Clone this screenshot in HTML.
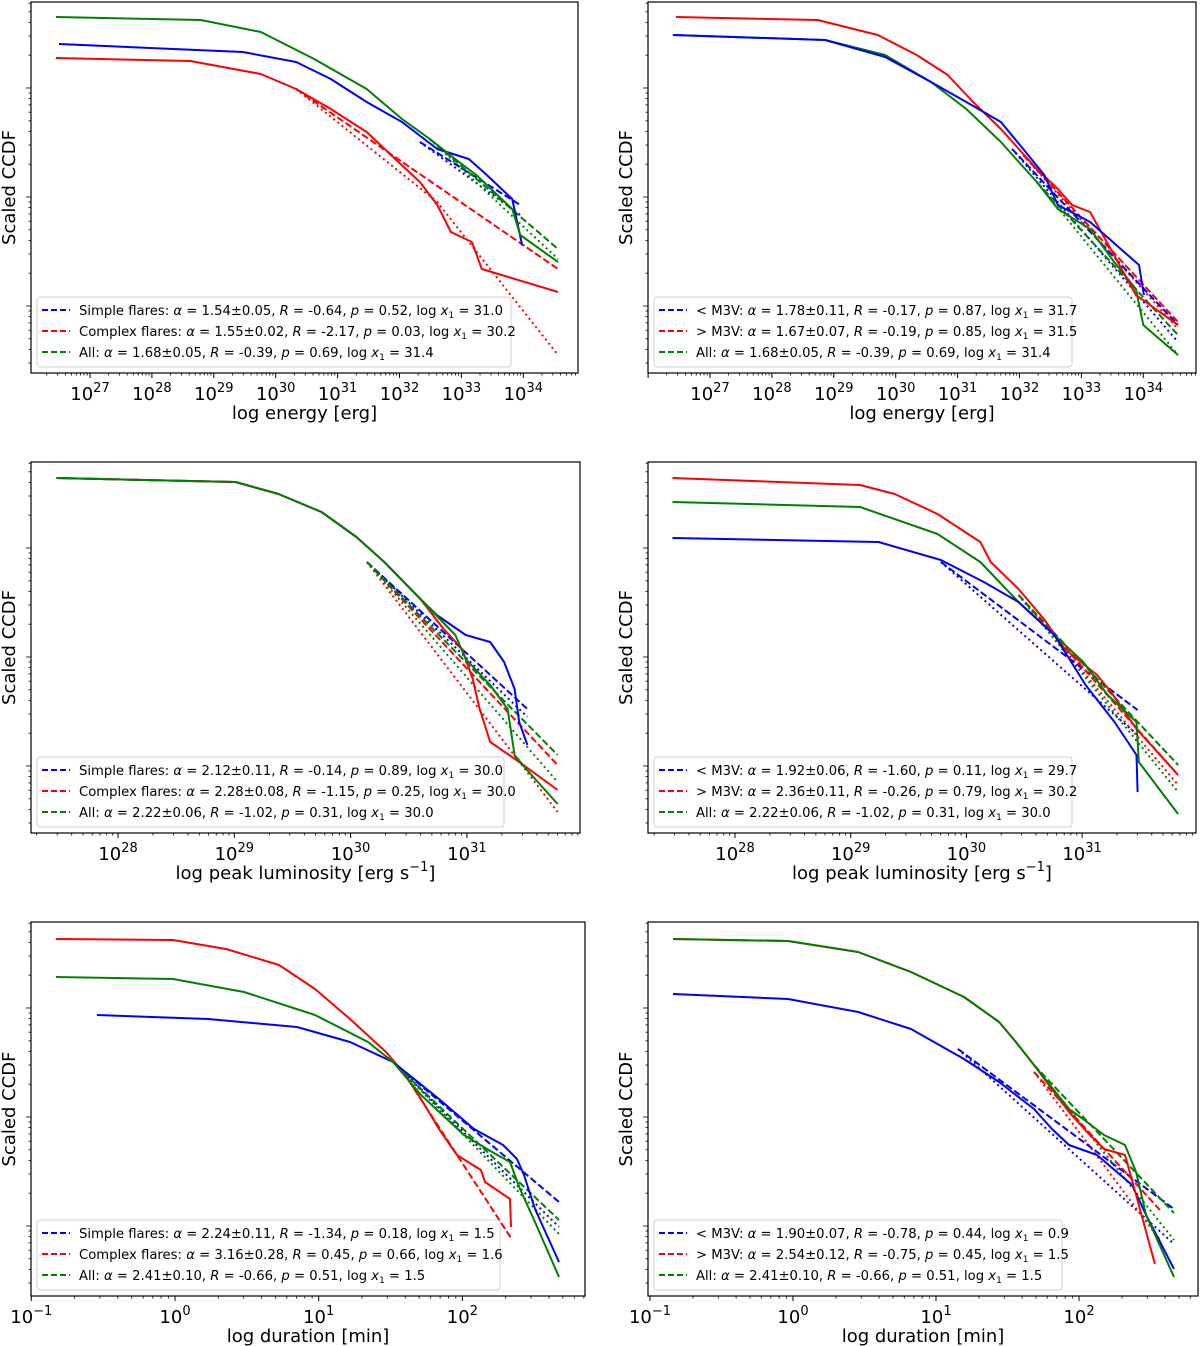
<!DOCTYPE html>
<html><head><meta charset="utf-8"><style>
html,body{margin:0;padding:0;background:#fff;}
svg{display:block;font-family:"DejaVu Sans","Liberation Sans",sans-serif;}
</style></head><body>
<svg id="fig" width="1200" height="1346" viewBox="0 0 1200 1346" xmlns="http://www.w3.org/2000/svg"></svg>
<script>
// ---------- data (log10 x, log10 scaled CCDF) ----------
const p1GreenX=[26.45,28.79,29.76,30.62,31.47,32.04,32.49,32.90,33.24,33.58,33.82,33.95,34.56];
const p1GreenY=[-0.15,-0.18,-0.30,-0.57,-0.87,-1.17,-1.37,-1.57,-1.73,-1.93,-2.07,-2.33,-2.60];
const p1BlueX=[26.50,29.47,30.33,30.89,31.47,32.04,32.61,33.12,33.41,33.82,33.98];
const p1BlueY=[-0.42,-0.50,-0.60,-0.77,-1.00,-1.20,-1.47,-1.57,-1.73,-1.97,-2.43];
const p1RedX=[26.45,28.62,29.76,30.33,30.89,31.47,31.93,32.33,32.61,32.83,33.17,33.33,34.56];
const p1RedY=[-0.56,-0.59,-0.72,-0.87,-1.07,-1.30,-1.57,-1.80,-2.03,-2.30,-2.40,-2.67,-2.90];
const p1RedDashX=[30.33,34.56], p1RedDashY=[-0.87,-2.67];
const p1RedDotX=[30.33,32.61,34.56], p1RedDotY=[-0.87,-2.00,-3.53];
const p1BlueDashX=[32.33,33.95], p1BlueDashY=[-1.40,-2.03], p1BlueDotY=[-1.40,-2.13];
const p1GreenDashX=[32.49,34.56], p1GreenDashY=[-1.37,-2.47], p1GreenDotY=[-1.37,-2.57];

const p2RedX=[26.45,28.74,29.71,30.34,30.84,31.25,31.70,32.28,32.62,32.85,33.14,33.41,33.88,34.56];
const p2RedY=[-0.15,-0.18,-0.33,-0.53,-0.73,-1.00,-1.27,-1.67,-1.87,-2.03,-2.10,-2.40,-2.93,-3.23];
const p2GreenX=[26.40,28.86,29.83,30.57,31.14,31.70,32.28,32.62,33.14,33.53,33.88,34.00,34.56];
const p2GreenY=[-0.33,-0.38,-0.53,-0.80,-1.07,-1.40,-1.80,-2.07,-2.27,-2.60,-2.87,-3.23,-3.53];
const p2BlueX=[26.40,28.86,29.83,30.57,31.14,31.70,32.06,32.40,32.62,33.14,33.93,34.01];
const p2BlueY=[-0.33,-0.38,-0.55,-0.80,-1.00,-1.20,-1.47,-1.73,-2.03,-2.20,-2.63,-2.93];
const p2BlueDashX=[31.88,34.56], p2BlueDashY=[-1.47,-3.23], p2BlueDotY=[-1.47,-3.40];
const p2RedDashX=[32.06,34.56], p2RedDashY=[-1.53,-3.20], p2RedDotY=[-1.53,-3.27];
const p2GreenDashX=[32.28,34.56], p2GreenDashY=[-1.80,-3.33], p2GreenDotY=[-1.80,-3.53];

const p3BaseX=[27.47,29.01,29.38,29.75,30.05,30.29,30.60];
const p3BaseY=[-0.16,-0.20,-0.32,-0.50,-0.75,-1.00,-1.37];
const p3BlueX=p3BaseX.concat([30.74,30.99,31.20,31.32,31.41,31.45,31.52]);
const p3BlueY=p3BaseY.concat([-1.53,-1.73,-1.80,-2.00,-2.27,-2.60,-2.83]);
const p3RedX=p3BaseX.concat([30.80,30.96,31.05,31.11,31.20,31.45,31.78]);
const p3RedY=p3BaseY.concat([-1.67,-1.87,-2.17,-2.47,-2.80,-3.00,-3.28]);
const p3GreenX=p3BaseX.concat([30.90,30.99,31.20,31.35,31.41,31.51,31.78]);
const p3GreenY=p3BaseY.concat([-1.73,-1.97,-2.23,-2.47,-2.93,-3.07,-3.42]);
const p3BlueDashX=[30.14,31.52], p3BlueDashY=[-1.00,-2.47], p3BlueDotY=[-1.00,-2.55];
const p3RedDashX=[30.14,31.78], p3RedDashY=[-1.00,-3.03], p3RedDotY=[-1.00,-3.50];
const p3GreenDashX=[30.14,31.78], p3GreenDashY=[-1.00,-2.93], p3GreenDotY=[-1.00,-3.20];

const p4RedX=[27.46,29.08,29.38,29.75,30.12,30.21,30.45,30.67,30.85,31.13,31.25,31.47,31.83];
const p4RedY=[-0.16,-0.23,-0.32,-0.52,-0.80,-1.00,-1.27,-1.57,-1.87,-2.13,-2.30,-2.67,-3.13];
const p4GreenX=[27.46,29.08,29.75,30.12,30.45,30.76,31.01,31.22,31.47,31.49,31.83];
const p4GreenY=[-0.40,-0.45,-0.72,-1.00,-1.40,-1.73,-2.00,-2.33,-2.60,-3.00,-3.52];
const p4BlueX=[27.46,29.24,29.78,30.15,30.45,30.76,31.03,31.28,31.47,31.48];
const p4BlueY=[-0.76,-0.80,-0.98,-1.20,-1.40,-1.73,-2.23,-2.60,-2.93,-3.30];
const p4BlueDashX=[29.78,31.48], p4BlueDashY=[-1.00,-2.48], p4BlueDotY=[-1.00,-2.73];
const p4RedDashX=[30.45,31.83], p4RedDashY=[-1.33,-3.13], p4RedDotY=[-1.33,-3.23];
const p4GreenDashX=[30.45,31.83], p4GreenDashY=[-1.33,-3.03], p4GreenDotY=[-1.33,-3.30];

const p5RedX=[-0.828,-0.014,0.355,0.724,0.974,1.218,1.468,1.587,1.712,1.837,1.962,2.129,2.157,2.331,2.338];
const p5RedY=[-0.17,-0.18,-0.27,-0.43,-0.67,-0.97,-1.30,-1.50,-1.77,-2.07,-2.33,-2.48,-2.60,-2.77,-3.05];
const p5GreenX=[-0.828,-0.014,0.480,0.974,1.343,1.517,1.712,2.011,2.206,2.331,2.401,2.505,2.672];
const p5GreenY=[-0.55,-0.57,-0.70,-0.93,-1.20,-1.40,-1.73,-2.13,-2.30,-2.40,-2.67,-3.00,-3.55];
const p5BlueX=[-0.543,0.230,0.849,1.218,1.517,1.837,2.081,2.283,2.380,2.429,2.505,2.672];
const p5BlueY=[-0.93,-0.97,-1.05,-1.20,-1.40,-1.77,-2.07,-2.23,-2.37,-2.53,-2.87,-3.40];
const p5BlueDashX=[1.517,2.672], p5BlueDashY=[-1.40,-2.80], p5BlueDotY=[-1.40,-3.05];
const p5RedDashX=[1.587,2.338], p5RedDashY=[-1.50,-3.16];
const p5GreenDashX=[1.587,2.672], p5GreenDashY=[-1.50,-2.98], p5GreenDotY=[-1.50,-3.12];

const p6RedX=[-0.839,-0.035,0.455,0.825,1.196,1.441,1.559,1.685,1.930,2.056,2.175,2.322,2.399,2.531];
const p6RedY=[-0.17,-0.19,-0.30,-0.50,-0.75,-1.00,-1.20,-1.43,-1.90,-2.10,-2.27,-2.33,-2.73,-3.42];
const p6GreenX=[-0.839,-0.035,0.455,0.825,1.196,1.441,1.559,1.685,1.930,2.028,2.175,2.322,2.399,2.469,2.664];
const p6GreenY=[-0.17,-0.19,-0.30,-0.50,-0.75,-1.00,-1.20,-1.43,-1.87,-1.97,-2.13,-2.23,-2.50,-2.93,-3.55];
const p6BlueX=[-0.839,-0.035,0.455,0.825,1.196,1.441,1.685,1.811,1.930,2.126,2.371,2.469,2.664];
const p6BlueY=[-0.72,-0.77,-0.90,-1.07,-1.37,-1.60,-1.87,-2.07,-2.23,-2.33,-2.63,-2.93,-3.47];
const p6BlueDashX=[1.154,2.664], p6BlueDashY=[-1.27,-2.87], p6BlueDotY=[-1.27,-3.22];
const p6RedDashX=[1.685,2.566], p6RedDashY=[-1.50,-2.88], p6RedDotY=[-1.50,-3.18];
const p6GreenDashX=[1.685,2.664], p6GreenDashY=[-1.43,-2.91], p6GreenDotY=[-1.43,-3.18];

const ticksEnergy=[27,28,29,30,31,32,33,34];
const ticksLum=[28,29,30,31];
const ticksDur=[-1,0,1,2];

const legendSimple=[
 ["Simple flares: ","1.54±0.05","-0.64","0.52","31.0"],
 ["Complex flares: ","1.55±0.02","-2.17","0.03","30.2"],
 ["All: ","1.68±0.05","-0.39","0.69","31.4"]];
const legendM3=[
 ["< M3V: ","1.78±0.11","-0.17","0.87","31.7"],
 ["> M3V: ","1.67±0.07","-0.19","0.85","31.5"],
 ["All: ","1.68±0.05","-0.39","0.69","31.4"]];
const legendSimpleL=[
 ["Simple flares: ","2.12±0.11","-0.14","0.89","30.0"],
 ["Complex flares: ","2.28±0.08","-1.15","0.25","30.0"],
 ["All: ","2.22±0.06","-1.02","0.31","30.0"]];
const legendM3L=[
 ["< M3V: ","1.92±0.06","-1.60","0.11","29.7"],
 ["> M3V: ","2.36±0.11","-0.26","0.79","30.2"],
 ["All: ","2.22±0.06","-1.02","0.31","30.0"]];
const legendSimpleD=[
 ["Simple flares: ","2.24±0.11","-1.34","0.18","1.5"],
 ["Complex flares: ","3.16±0.28","0.45","0.66","1.6"],
 ["All: ","2.41±0.10","-0.66","0.51","1.5"]];
const legendM3D=[
 ["< M3V: ","1.90±0.07","-0.78","0.44","0.9"],
 ["> M3V: ","2.54±0.12","-0.75","0.45","1.5"],
 ["All: ","2.41±0.10","-0.66","0.51","1.5"]];

// ---------- drawing ----------
const NS="http://www.w3.org/2000/svg";
const svg=document.getElementById('fig');
function mk(tag,attrs,parent){const e=document.createElementNS(NS,tag);for(const k in attrs)e.setAttribute(k,attrs[k]);(parent||svg).appendChild(e);return e;}
const COL={b:"#0000ff",r:"#ff0000",g:"#008000"};

function panel(cfg){
  const g=mk('g',{});
  
  
  const L=cfg.l,R=cfg.r,T=cfg.t,B=cfg.b;
  const xs=v=>cfg.px0+(v-cfg.x0)*cfg.dec;
  const ys=v=>T+(-v)*100;
  const clip='clip-'+cfg.name;
  const cp=mk('clipPath',{id:clip},g);mk('rect',{x:L,y:T,width:R-L,height:B-T},cp);
  const plot=mk('g',{'clip-path':'url(#'+clip+')'},g);
  
  
  cfg.series.forEach(s=>{
    const xa=s[0],ya=s[1];
    const pts=xa.map((x,i)=>xs(x).toFixed(1)+','+ys(ya[i]).toFixed(1)).join(' ');
    const a={points:pts,fill:'none',stroke:COL[s[2]],'stroke-width':2,'stroke-linejoin':'round'};
    if(s[3]=='dash')a['stroke-dasharray']='7,3';
    if(s[3]=='dot')a['stroke-dasharray']='2,3.3';
    const pl=mk('polyline',a,plot);
    
    
  });
  const fr=mk('rect',{x:L,y:T,width:R-L,height:B-T,fill:'none',stroke:'#000','stroke-width':1.2},g);
  
  
  const xt=mk('g',{},g);
  
  
  const lo=Math.floor(cfg.x0-3),hi=Math.ceil(cfg.x0+(R-cfg.px0)/cfg.dec+1);
  for(let d=lo;d<=hi;d++){for(let k=1;k<10;k++){const v=d+Math.log10(k);const p=xs(v);if(p<L-0.5||p>R+0.5)continue;
    mk('line',{x1:p,x2:p,y1:B,y2:B+(k==1?5:2.5),stroke:'#000','stroke-width':k==1?1:0.8},xt);}}
  cfg.ticks.forEach(t=>{
    const tx=mk('text',{x:xs(t),y:B+27,'font-size':18,'text-anchor':'middle',fill:'#000'},xt);
    
    
    const a=mk('tspan',{},tx);a.textContent='10';
    const b=mk('tspan',{dy:-8,'font-size':13},tx);b.textContent=(t<0?'\u2212':'')+Math.abs(t);
  });
  const xl=mk('text',{x:(L+R)/2,y:B+46,'font-size':18,'text-anchor':'middle'},g);
  
  
  xl.innerHTML=cfg.xlabel;
  const yt=mk('g',{},g);
  
  
  for(let d=-6;d<=2;d++){for(let k=1;k<10;k++){const v=-0.86+(d+Math.log10(k))*1.09;const p=ys(v);if(p<T||p>B)continue;
    mk('line',{x1:L,x2:L-(k==1?5:2.5),y1:p,y2:p,stroke:'#000','stroke-width':0.8},yt);}}
  const yl=mk('text',{x:0,y:0,'font-size':18,'text-anchor':'middle',transform:`translate(${L-16},${(T+B)/2}) rotate(-90)`},g);
  
  
  yl.textContent='Scaled CCDF';
  const lg=mk('g',{},g);
  
  
  const lx=L+6,ly=cfg.legY;
  mk('rect',{x:lx,y:ly,width:cfg.legW,height:70,rx:3,fill:'#fff','fill-opacity':0.85,stroke:'#d0d0d0','stroke-width':1},lg);
  const cols=['b','r','g'];
  cfg.legend.forEach((row,i)=>{
    const yy=ly+13+i*21;
    const e=mk('g',{},lg);
    
    
    mk('line',{x1:lx+5,x2:lx+33,y1:yy,y2:yy,stroke:COL[cols[i]],'stroke-width':2,'stroke-dasharray':'6,3'},e);
    const t=mk('text',{x:lx+42,y:yy+5,'font-size':13.2},e);
    t.innerHTML=row[0]+'<tspan font-style="italic">α</tspan> = '+row[1]+', <tspan font-style="italic">R</tspan> = '+row[2]+', <tspan font-style="italic">p</tspan> = '+row[3]+', log <tspan font-style="italic">x</tspan><tspan font-size="9" dy="3">1</tspan><tspan dy="-3"> = '+row[4]+'</tspan>';
  });
}

const S=(x,y,c,st,n)=>[x,y,c,st,n];
panel({name:'panel-energy-simple-complex',l:31,r:578,t:2,b:373,px0:90,x0:27,dec:61.9,ticks:ticksEnergy,
 xlabel:'log energy [erg]',legY:297,legW:474,legend:legendSimple,series:[
 S(p1RedDotX,p1RedDotY,'r','dot','complex-fit-dotted'),S(p1BlueDashX,p1BlueDotY,'b','dot','simple-fit-dotted'),S(p1GreenDashX,p1GreenDotY,'g','dot','all-fit-dotted'),
 S(p1RedDashX,p1RedDashY,'r','dash','complex-fit'),S(p1BlueDashX,p1BlueDashY,'b','dash','simple-fit'),S(p1GreenDashX,p1GreenDashY,'g','dash','all-fit'),
 S(p1RedX,p1RedY,'r','solid','complex-ccdf'),S(p1BlueX,p1BlueY,'b','solid','simple-ccdf'),S(p1GreenX,p1GreenY,'g','solid','all-ccdf')]});
panel({name:'panel-energy-m3v',l:648,r:1196,t:2,b:373,px0:710,x0:27,dec:61.9,ticks:ticksEnergy,
 xlabel:'log energy [erg]',legY:297,legW:418,legend:legendM3,series:[
 S(p2BlueDashX,p2BlueDotY,'b','dot','lt-m3v-fit-dotted'),S(p2RedDashX,p2RedDotY,'r','dot','gt-m3v-fit-dotted'),S(p2GreenDashX,p2GreenDotY,'g','dot','all-fit-dotted'),
 S(p2BlueDashX,p2BlueDashY,'b','dash','lt-m3v-fit'),S(p2RedDashX,p2RedDashY,'r','dash','gt-m3v-fit'),S(p2GreenDashX,p2GreenDashY,'g','dash','all-fit'),
 S(p2GreenX,p2GreenY,'g','solid','all-ccdf'),S(p2RedX,p2RedY,'r','solid','gt-m3v-ccdf'),S(p2BlueX,p2BlueY,'b','solid','lt-m3v-ccdf')]});
panel({name:'panel-luminosity-simple-complex',l:31,r:580,t:462,b:833,px0:118,x0:28,dec:116.3,ticks:ticksLum,
 xlabel:'log peak luminosity [erg s<tspan font-size="13" dy="-8">−1</tspan><tspan dy="8">]</tspan>',legY:757,legW:467,legend:legendSimpleL,series:[
 S(p3BlueDashX,p3BlueDotY,'b','dot','simple-fit-dotted'),S(p3RedDashX,p3RedDotY,'r','dot','complex-fit-dotted'),S(p3GreenDashX,p3GreenDotY,'g','dot','all-fit-dotted'),
 S(p3BlueDashX,p3BlueDashY,'b','dash','simple-fit'),S(p3RedDashX,p3RedDashY,'r','dash','complex-fit'),S(p3GreenDashX,p3GreenDashY,'g','dash','all-fit'),
 S(p3BlueX,p3BlueY,'b','solid','simple-ccdf'),S(p3RedX,p3RedY,'r','solid','complex-ccdf'),S(p3GreenX,p3GreenY,'g','solid','all-ccdf')]});
panel({name:'panel-luminosity-m3v',l:648,r:1196,t:462,b:833,px0:735,x0:28,dec:115.7,ticks:ticksLum,
 xlabel:'log peak luminosity [erg s<tspan font-size="13" dy="-8">−1</tspan><tspan dy="8">]</tspan>',legY:757,legW:418,legend:legendM3L,series:[
 S(p4BlueDashX,p4BlueDotY,'b','dot','lt-m3v-fit-dotted'),S(p4RedDashX,p4RedDotY,'r','dot','gt-m3v-fit-dotted'),S(p4GreenDashX,p4GreenDotY,'g','dot','all-fit-dotted'),
 S(p4BlueDashX,p4BlueDashY,'b','dash','lt-m3v-fit'),S(p4RedDashX,p4RedDashY,'r','dash','gt-m3v-fit'),S(p4GreenDashX,p4GreenDashY,'g','dash','all-fit'),
 S(p4RedX,p4RedY,'r','solid','gt-m3v-ccdf'),S(p4GreenX,p4GreenY,'g','solid','all-ccdf'),S(p4BlueX,p4BlueY,'b','solid','lt-m3v-ccdf')]});
panel({name:'panel-duration-simple-complex',l:31,r:585,t:922,b:1296,px0:175,x0:0,dec:143.7,ticks:ticksDur,
 xlabel:'log duration [min]',legY:1220,legW:463,legend:legendSimpleD,series:[
 S(p5BlueDashX,p5BlueDotY,'b','dot','simple-fit-dotted'),S(p5GreenDashX,p5GreenDotY,'g','dot','all-fit-dotted'),
 S(p5BlueDashX,p5BlueDashY,'b','dash','simple-fit'),S(p5RedDashX,p5RedDashY,'r','dash','complex-fit'),S(p5GreenDashX,p5GreenDashY,'g','dash','all-fit'),
 S(p5RedX,p5RedY,'r','solid','complex-ccdf'),S(p5BlueX,p5BlueY,'b','solid','simple-ccdf'),S(p5GreenX,p5GreenY,'g','solid','all-ccdf')]});
panel({name:'panel-duration-m3v',l:648,r:1198,t:922,b:1296,px0:793,x0:0,dec:143,ticks:ticksDur,
 xlabel:'log duration [min]',legY:1220,legW:408,legend:legendM3D,series:[
 S(p6BlueDashX,p6BlueDotY,'b','dot','lt-m3v-fit-dotted'),S(p6RedDashX,p6RedDotY,'r','dot','gt-m3v-fit-dotted'),S(p6GreenDashX,p6GreenDotY,'g','dot','all-fit-dotted'),
 S(p6BlueDashX,p6BlueDashY,'b','dash','lt-m3v-fit'),S(p6RedDashX,p6RedDashY,'r','dash','gt-m3v-fit'),S(p6GreenDashX,p6GreenDashY,'g','dash','all-fit'),
 S(p6BlueX,p6BlueY,'b','solid','lt-m3v-ccdf'),S(p6RedX,p6RedY,'r','solid','gt-m3v-ccdf'),S(p6GreenX,p6GreenY,'g','solid','all-ccdf')]});
</script>
</body></html>
